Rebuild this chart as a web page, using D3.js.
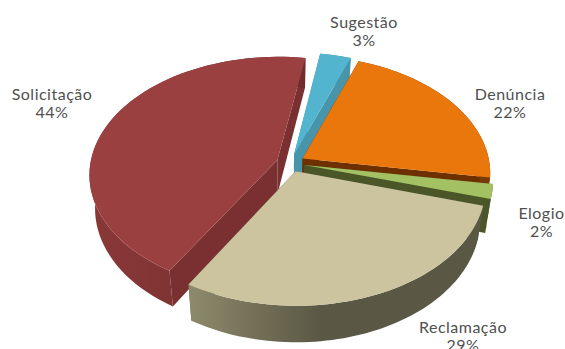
<!DOCTYPE html>
<html><head><meta charset="utf-8">
<script src="https://cdn.jsdelivr.net/npm/d3@7"></script>
<style>html,body{margin:0;background:#fff;overflow:hidden}svg{display:block}text{font-family:"Lato",sans-serif;font-size:16px;letter-spacing:.5px;fill:#505050;text-anchor:middle}</style>
</head><body><script>
// Categories and their share of the total, in percent
const categories = ["Denúncia", "Elogio", "Reclamação", "Solicitação", "Sugestão"];
const shares = [22, 2, 29, 44, 3];
const topColors = ["#E9770C", "#A3C163", "#CBC49F", "#9B4040", "#52B4CF"];
const wallColors = ["#6E3000", "#4A5528", "#5F5C48", "#7A3030", "#4795AB"];
const sideFrom = ["#7A3A05", "#4A5528", "#8E8A6C", "#8A3838", "#4795AB"];
const sideTo = ["#6E3000", "#4A5528", "#5A5744", "#702C2C", "#4795AB"];

// Label anchors, in page pixels
const labelX = [510, 541.5, 463, 52, 364];
const labelY = [100, 219, 333, 100, 28];
const labelLine = 18;

const W = 565, H = 349;
const cx = 290.5, cy = 163; // pie centre on the page
const radius = 187;         // disc radius
const tilt = 0.622;         // vertical foreshortening of the disc
const persp = 0.12;         // how much nearer points grow
const explode = 14;         // slice pull-out distance
const depth = 33;           // thickness at mid-depth
const arcSteps = 64;
const startDeg = 20;

const svg = d3.select("body").append("svg").attr("width", W).attr("height", H);
const defs = svg.append("defs");

// Maps a point on the disc (u right, v towards the viewer) to the page; z=1 is the underside
function project(u, v, z) {
  const n = v / radius;
  const s = 1 / (1 - persp * n);
  const shrink = 1 - 0.028 * z;
  return [cx + u * s * shrink, cy + tilt * v * s + z * depth * (1 + 0.1 * n)];
}

const pie = d3.pie().sort(null).startAngle(startDeg * Math.PI / 180).endAngle((360 + startDeg) * Math.PI / 180);
const slices = pie(shares);
const line = d3.line();

slices.forEach(d => {
  const mid = (d.startAngle + d.endAngle) / 2;
  d.ox = explode * Math.sin(mid);
  d.oy = -explode * Math.cos(mid);
  d.rim = d3.range(arcSteps + 1).map(k => {
    const a = d.startAngle + (d.endAngle - d.startAngle) * k / arcSteps;
    return [d.ox + radius * Math.sin(a), d.oy - radius * Math.cos(a)];
  });
});

// Back slices first so nearer ones overlap them
const paintOrder = [4, 3, 0, 1, 2];
paintOrder.forEach(i => {
  const d = slices[i];
  const g = svg.append("g").attr("class", "slice");
  const first = d.rim[0], last = d.rim[arcSteps];
  const apex = [d.ox, d.oy];

  // Flat walls along the two cuts
  [first, last].forEach(p => {
    const quad = [project(apex[0], apex[1], 0), project(p[0], p[1], 0), project(p[0], p[1], 1), project(apex[0], apex[1], 1)];
    g.append("path").attr("d", line(quad) + "Z").attr("fill", wallColors[i]);
  });

  // Curved outer wall
  const wall = d.rim.map(p => project(p[0], p[1], 0)).concat(d.rim.slice().reverse().map(p => project(p[0], p[1], 1)));
  const xs = d3.extent(wall, p => p[0]);
  const gradId = "side" + i;
  const grad = defs.append("linearGradient").attr("id", gradId)
    .attr("gradientUnits", "userSpaceOnUse")
    .attr("x1", i === 2 ? xs[0] : xs[1]).attr("x2", i === 2 ? xs[0] + (xs[1] - xs[0]) * 0.45 : xs[0]).attr("y1", 0).attr("y2", 0);
  grad.append("stop").attr("offset", 0).attr("stop-color", i === 3 ? sideTo[i] : sideFrom[i]);
  grad.append("stop").attr("offset", 1).attr("stop-color", i === 3 ? sideFrom[i] : sideTo[i]);
  g.append("path").attr("d", line(wall) + "Z").attr("fill", `url(#${gradId})`);

  // Top face
  const top = [apex].concat(d.rim).map(p => project(p[0], p[1], 0));
  g.append("path").attr("d", line(top) + "Z").attr("fill", topColors[i]);
});

// Category name with its share below
categories.forEach((name, i) => {
  const t = svg.append("text").attr("x", labelX[i]).attr("y", labelY[i]);
  t.append("tspan").attr("x", labelX[i]).text(name);
  t.append("tspan").attr("x", labelX[i]).attr("dy", labelLine).text(shares[i] + "%");
});
</script></body></html>
